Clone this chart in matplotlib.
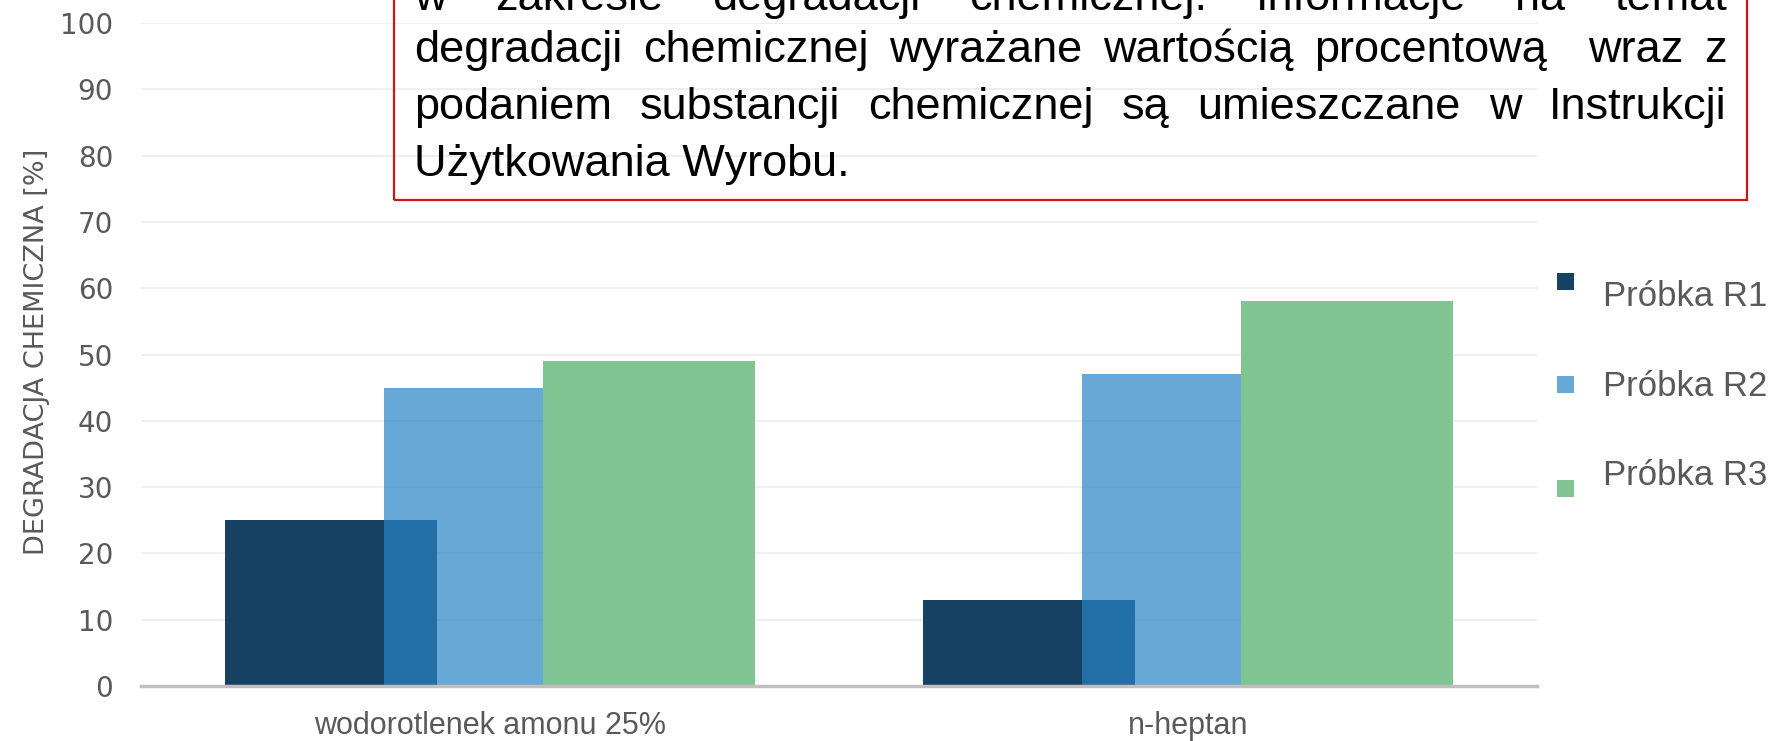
import numpy as np
import matplotlib
matplotlib.use("Agg")
import matplotlib.pyplot as plt
from matplotlib.patches import Rectangle

# data
categories = ["wodorotlenek amonu 25%", "n-heptan"]
series_names = ["Próbka R1", "Próbka R2", "Próbka R3"]
r1 = [25, 13]
r2 = [45, 47]
r3 = [49, 58]
yticks = [0, 10, 20, 30, 40, 50, 60, 70, 80, 90, 100]

box_lines = [
    "w zakresie degradacji chemicznej. Informacje na temat",
    "degradacji chemicznej wyrażane wartością procentową  wraz z",
    "podaniem substancji chemicznej są umieszczane w Instrukcji",
    "Użytkowania Wyrobu.",
]

W, H = 1773, 741
fig = plt.figure(figsize=(W / 100, H / 100), dpi=100)
ax = fig.add_axes([141 / W, 1 - 686 / H, 1396 / W, 663 / H])

gray = "#595959"
colors = ["#174263", "#2783c5", "#7fc491"]
alphas = [1.0, 0.7, 1.0]

x = np.arange(len(categories))
width = 0.304
offsets = [-0.228, 0.0, 0.228]
for vals, off, c, a, name in zip([r1, r2, r3], offsets, colors, alphas, series_names):
    ax.bar(x + off, vals, width, color=c, alpha=a, linewidth=0, label=name, zorder=2)

ax.set_xlim(-0.5, 1.5)
ax.set_ylim(0, 100)
ax.set_yticks(yticks)
ax.set_xticks(x)
ax.set_xticklabels(categories, fontsize=22, color=gray, family="Liberation Sans")
ax.set_yticklabels([str(t) for t in yticks], fontsize=20, color=gray, family="DejaVu Sans")
ax.tick_params(axis="y", length=0, pad=20)
ax.tick_params(axis="x", length=0, pad=18)
ax.yaxis.grid(True, color="#efefef", linewidth=1.4)
ax.set_axisbelow(True)
for s in ["left", "right", "top"]:
    ax.spines[s].set_visible(False)
ax.spines["bottom"].set_color("#bfbfbf")
ax.spines["bottom"].set_linewidth(2.5)
ax.spines["bottom"].set_zorder(3)

fig.text(37 / W, 1 - 352 / H, "DEGRADACJA CHEMICZNA [%]", rotation=90,
         ha="center", va="center", fontsize=19.5, color=gray, family="DejaVu Sans")

# legend, placed by hand like in the original
sq_y = [281, 385, 488]
lab_y = [296, 386, 476]
for name, c, a, sy, ly in zip(series_names, colors, alphas, sq_y, lab_y):
    fig.patches.append(Rectangle((1557 / W, 1 - (sy + 8.5) / H), 17 / W, 17 / H,
                                 transform=fig.transFigure, facecolor=c, alpha=a,
                                 linewidth=0))
    fig.text(1603 / W, 1 - ly / H, name, ha="left", va="center",
             fontsize=25, color=gray, family="Liberation Sans")

# text box with justified text (top of it runs off the figure, as in the original)
fig.patches.append(Rectangle((394 / W, 1 - 200 / H), (1747 - 394) / W, 220 / H,
                             transform=fig.transFigure, facecolor="none",
                             edgecolor="#d01515", linewidth=1.6, clip_on=False))

renderer = fig.canvas.get_renderer()
x0, x1 = 414, 1727
baselines = [10, 62, 119, 176]
tkw = dict(fontsize=32.5, color="black", family="Liberation Sans", va="baseline", ha="left")
for i, (line, by) in enumerate(zip(box_lines, baselines)):
    yf = 1 - by / H
    if i == len(box_lines) - 1:
        fig.text(x0 / W, yf, line, **tkw)
        continue
    words = line.split(" ")
    texts = []
    widths = []
    for w in words:
        if w == "":
            texts.append(None)
            widths.append(0.0)
        else:
            t = fig.text(0, yf, w, **tkw)
            texts.append(t)
            widths.append(t.get_window_extent(renderer).width)
    gap = (x1 - x0 - sum(widths)) / (len(words) - 1)
    pos = x0
    for t, wd in zip(texts, widths):
        if t is not None:
            t.set_x(pos / W)
        pos += wd + gap

fig.savefig("out.png", dpi=100)
